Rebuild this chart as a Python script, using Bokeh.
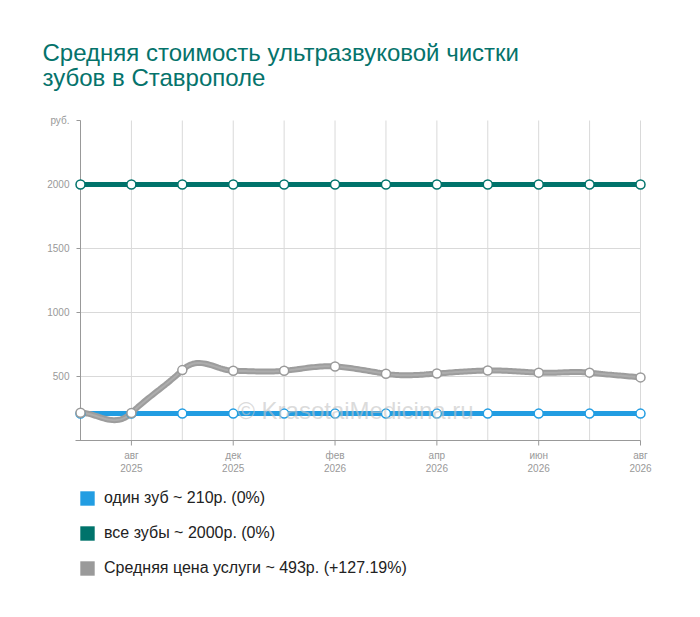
import numpy as np
from bokeh.plotting import figure
from bokeh.models import Range1d, FixedTicker, Legend, LegendItem, Label
from bokeh.embed import file_html
from bokeh.resources import INLINE

# ---------------- data ----------------
x_index = [0, 1, 2, 3, 4, 5, 6, 7, 8, 9, 10, 11]
x_tick_positions = [1, 3, 5, 7, 9, 11]
x_tick_labels = ["авг\n2025", "дек\n2025", "фев\n2026", "апр\n2026", "июн\n2026", "авг\n2026"]
one_tooth = [210, 210, 210, 210, 210, 210, 210, 210, 210, 210, 210, 210]
all_teeth = [2000, 2000, 2000, 2000, 2000, 2000, 2000, 2000, 2000, 2000, 2000, 2000]
average = [217, 215, 550, 545, 545, 578, 521, 523, 547, 530, 530, 493]
series_names = ["один зуб ~ 210р. (0%)", "все зубы ~ 2000р. (0%)",
                "Средняя цена услуги ~ 493р. (+127.19%)"]
y_ticks = [500, 1000, 1500, 2000, 2500]
y_grid = [500, 1000, 1500, 2000]
y_top_label = "руб."
title_text = "Средняя стоимость ультразвуковой чистки\nзубов в Ставрополе"
watermark = "© KrasotaiMedicina.ru"

# ---------------- styles ----------------
BLUE = "#229de2"
TEAL = "#00736b"
GREY = "#9d9d9d"
FONT = "Liberation Sans"

# geometry (pixels)
PX_X = 560 / 11
PX_Y = 320 / 2500
pad_l = 10 / PX_X
pad_r = 16 / PX_X
pad_top = 3 / PX_Y

W = 690
B_LEFT, B_TOP = 70, 117
FRAME_W, FRAME_H = 586, 461
y_end = 2500 + pad_top
y_start = y_end - FRAME_H / PX_Y

p = figure(frame_width=FRAME_W, frame_height=FRAME_H,
           output_backend="svg", toolbar_location=None,
           x_range=Range1d(-pad_l, x_index[-1] + pad_r),
           y_range=Range1d(y_start, y_end),
           min_border_left=B_LEFT, min_border_top=B_TOP,
           min_border_right=W - B_LEFT - FRAME_W, min_border_bottom=0)
p.outline_line_color = None
p.xgrid.visible = False
p.ygrid.visible = False
p.background_fill_color = "white"
p.border_fill_color = "white"

# title
p.title.text = title_text
p.title.align = "left"
p.title.text_font = FONT
p.title.text_font_size = "24px"
p.title.text_font_style = "normal"
p.title.text_line_height = 0.93
p.title.text_color = "#05736b"
p.title.offset = -28
p.title.standoff = 52

# grid
gc = "#d9d9d9"
p.segment(x0=x_index, y0=[0] * len(x_index), x1=x_index, y1=[2500] * len(x_index),
          line_color=gc, line_width=1)
p.segment(x0=[0] * len(y_grid), y0=y_grid, x1=[x_index[-1]] * len(y_grid), y1=y_grid,
          line_color=gc, line_width=1)

# axes lines / ticks
ac = "#999999"
p.segment(x0=[0], y0=[0], x1=[0], y1=[2500], line_color=ac, line_width=1)
p.segment(x0=[-5 / PX_X], y0=[0], x1=[x_index[-1]], y1=[0], line_color=ac, line_width=1)
p.segment(x0=[-4 / PX_X] * len(y_ticks), y0=y_ticks, x1=[0] * len(y_ticks), y1=y_ticks,
          line_color=ac, line_width=1)
p.segment(x0=x_tick_positions, y0=[0] * len(x_tick_positions), x1=x_tick_positions,
          y1=[-5 / PX_Y] * len(x_tick_positions), line_color=ac, line_width=1)

for ax in (p.xaxis[0], p.yaxis[0]):
    ax.axis_line_color = None
    ax.major_tick_line_color = None
    ax.minor_tick_line_color = None
    ax.major_tick_in = 0
    ax.major_tick_out = 0
    ax.major_label_text_font = FONT
    ax.major_label_text_font_size = "10px"
    ax.major_label_text_color = "#999999"

p.yaxis.ticker = FixedTicker(ticks=y_ticks)
p.yaxis.major_label_overrides = {2500: y_top_label}
p.yaxis.major_label_standoff = 1
p.xaxis.ticker = FixedTicker(ticks=x_tick_positions)
p.xaxis.major_label_overrides = {k: v for k, v in zip(x_tick_positions, x_tick_labels)}
p.xaxis.major_label_standoff = 9
p.xaxis.fixed_location = 0


# smooth curve for the average series
def cardinal(xs, ys, k=2.3, n=24):
    xs = np.asarray(xs, float)
    ys = np.asarray(ys, float)
    m = np.zeros_like(ys)
    m[1:-1] = k * (ys[2:] - ys[:-2]) / 2
    m[0] = ys[1] - ys[0]
    m[-1] = ys[-1] - ys[-2]
    ox, oy = [], []
    for i in range(len(xs) - 1):
        t = np.linspace(0, 1, n, endpoint=(i == len(xs) - 2))
        h00 = 2 * t**3 - 3 * t**2 + 1
        h10 = t**3 - 2 * t**2 + t
        h01 = -2 * t**3 + 3 * t**2
        h11 = t**3 - t**2
        dx = xs[i + 1] - xs[i]
        ox.extend(xs[i] + t * dx)
        oy.extend(h00 * ys[i] + h10 * dx * m[i] + h01 * ys[i + 1] + h11 * dx * m[i + 1])
    return ox, oy


# series lines
p.line(x_index, one_tooth, line_color=BLUE, line_width=5)
p.line(x_index, all_teeth, line_color=TEAL, line_width=5)
sx, sy = cardinal(x_index, average)
p.line(sx, sy, line_color=GREY, line_width=6)
p.line(sx, sy, line_color="#b4b4b4", line_width=2, line_alpha=0.7)

for ys, c in ((one_tooth, BLUE), (all_teeth, TEAL), (average, "#9a9a9a")):
    p.scatter(x_index, ys, size=9, fill_color="white", line_color=c, line_width=1.5)

# watermark
p.add_layout(Label(x=5.4, y=234, text=watermark, text_align="center",
                   text_baseline="middle", text_font=FONT, text_font_size="24px",
                   text_color="#c4c4c4", text_alpha=0.6))

# legend proxies: zero-area quads at the series' first points
dummies = []
for ys, c in ((one_tooth, BLUE), (all_teeth, TEAL), (average, "#9a9a9a")):
    dummies.append(p.quad(left=x_index[:1], right=x_index[:1], top=ys[:1], bottom=ys[:1],
                          fill_color=c, line_color=None))
legend = Legend(items=[LegendItem(label=n, renderers=[r]) for n, r in zip(series_names, dummies)],
                location=(8, 0), orientation="vertical",
                glyph_width=18, glyph_height=18, label_standoff=8,
                label_height=20, spacing=15, padding=0, margin=0,
                border_line_color=None, background_fill_alpha=0,
                label_text_font=FONT, label_text_font_size="16px", label_text_color="#222222")
p.add_layout(legend)

open("out.html", "w").write(file_html(p, INLINE))
